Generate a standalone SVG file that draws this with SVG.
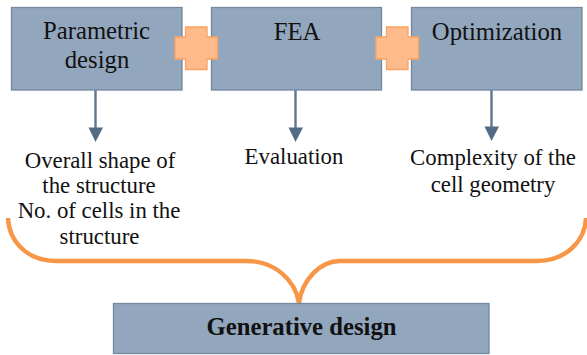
<svg xmlns="http://www.w3.org/2000/svg" width="587" height="355" viewBox="0 0 587 355">
<style>
.box{fill:#92a6bd;stroke:#72889f;stroke-width:1.3}
.plus{fill:#fdbb8c;stroke:#fba262;stroke-width:1.3}
.t{font-family:"Liberation Serif",serif;font-size:24.7px;fill:#111;text-anchor:middle}
.s{font-family:"Liberation Serif",serif;font-size:22.8px;fill:#111;text-anchor:middle}
.b{font-family:"Liberation Serif",serif;font-size:24.7px;font-weight:bold;fill:#111;text-anchor:middle}
.arrow{stroke:#5f7690;stroke-width:2.4;fill:none}
.head{fill:#536b85}
.brace{fill:none;stroke:#f79646;stroke-width:4.4}
</style>
<rect width="587" height="355" fill="#fff"/>
<g id="connectors">
<path class="arrow" d="M95.500 90V129"/><polygon class="head" points="88.500,127.500 103,127.500 95.500,142"/>
<path class="arrow" d="M295.500 90V129"/><polygon class="head" points="288.500,127.500 303,127.500 295.500,142"/>
<path class="arrow" d="M491.500 89V128"/><polygon class="head" points="484.500,126.500 499,126.500 491.500,141"/>
<path class="brace" d="M8 218C9 242 28 261 56 261H247C275 261 295 280 299 303M586 218C585 242 565 261 537 261H340C320 261 302 280 299 303"/>
</g>
<g id="parametric"><rect class="box" x="11.500" y="7.500" width="170.500" height="82.500"/><text class="t" x="96.500" y="39">Parametric</text><text class="t" x="97" y="68">design</text></g>
<g id="fea"><rect class="box" x="211.500" y="7.500" width="170" height="82.500"/><text class="t" x="297" y="40">FEA</text></g>
<g id="optimization"><rect class="box" x="411.500" y="7.500" width="170.500" height="82.500"/><text class="t" x="497" y="40">Optimization</text></g>
<g id="plus1"><path class="plus" d="M185.500 27H207V37H217.500V59H207V69.500H185.500V59H175V37H185.500Z"/></g>
<g id="plus2"><path class="plus" d="M386.500 27H408V37H418.500V59H408V69.500H386.500V59H376V37H386.500Z"/></g>
<g id="text-overall"><text class="s" x="100" y="168">Overall shape of</text><text class="s" x="99" y="193">the structure</text><text class="s" x="99" y="218">No. of cells in the</text><text class="s" x="99.500" y="244">structure</text></g>
<g id="text-evaluation"><text class="s" x="294" y="164">Evaluation</text></g>
<g id="text-complexity"><text class="s" x="493" y="165">Complexity of the</text><text class="s" x="493" y="192">cell geometry</text></g>
<g id="generative"><rect class="box" x="113.500" y="303.500" width="375.500" height="50"/><text class="b" x="301.500" y="335">Generative design</text></g>
</svg>
